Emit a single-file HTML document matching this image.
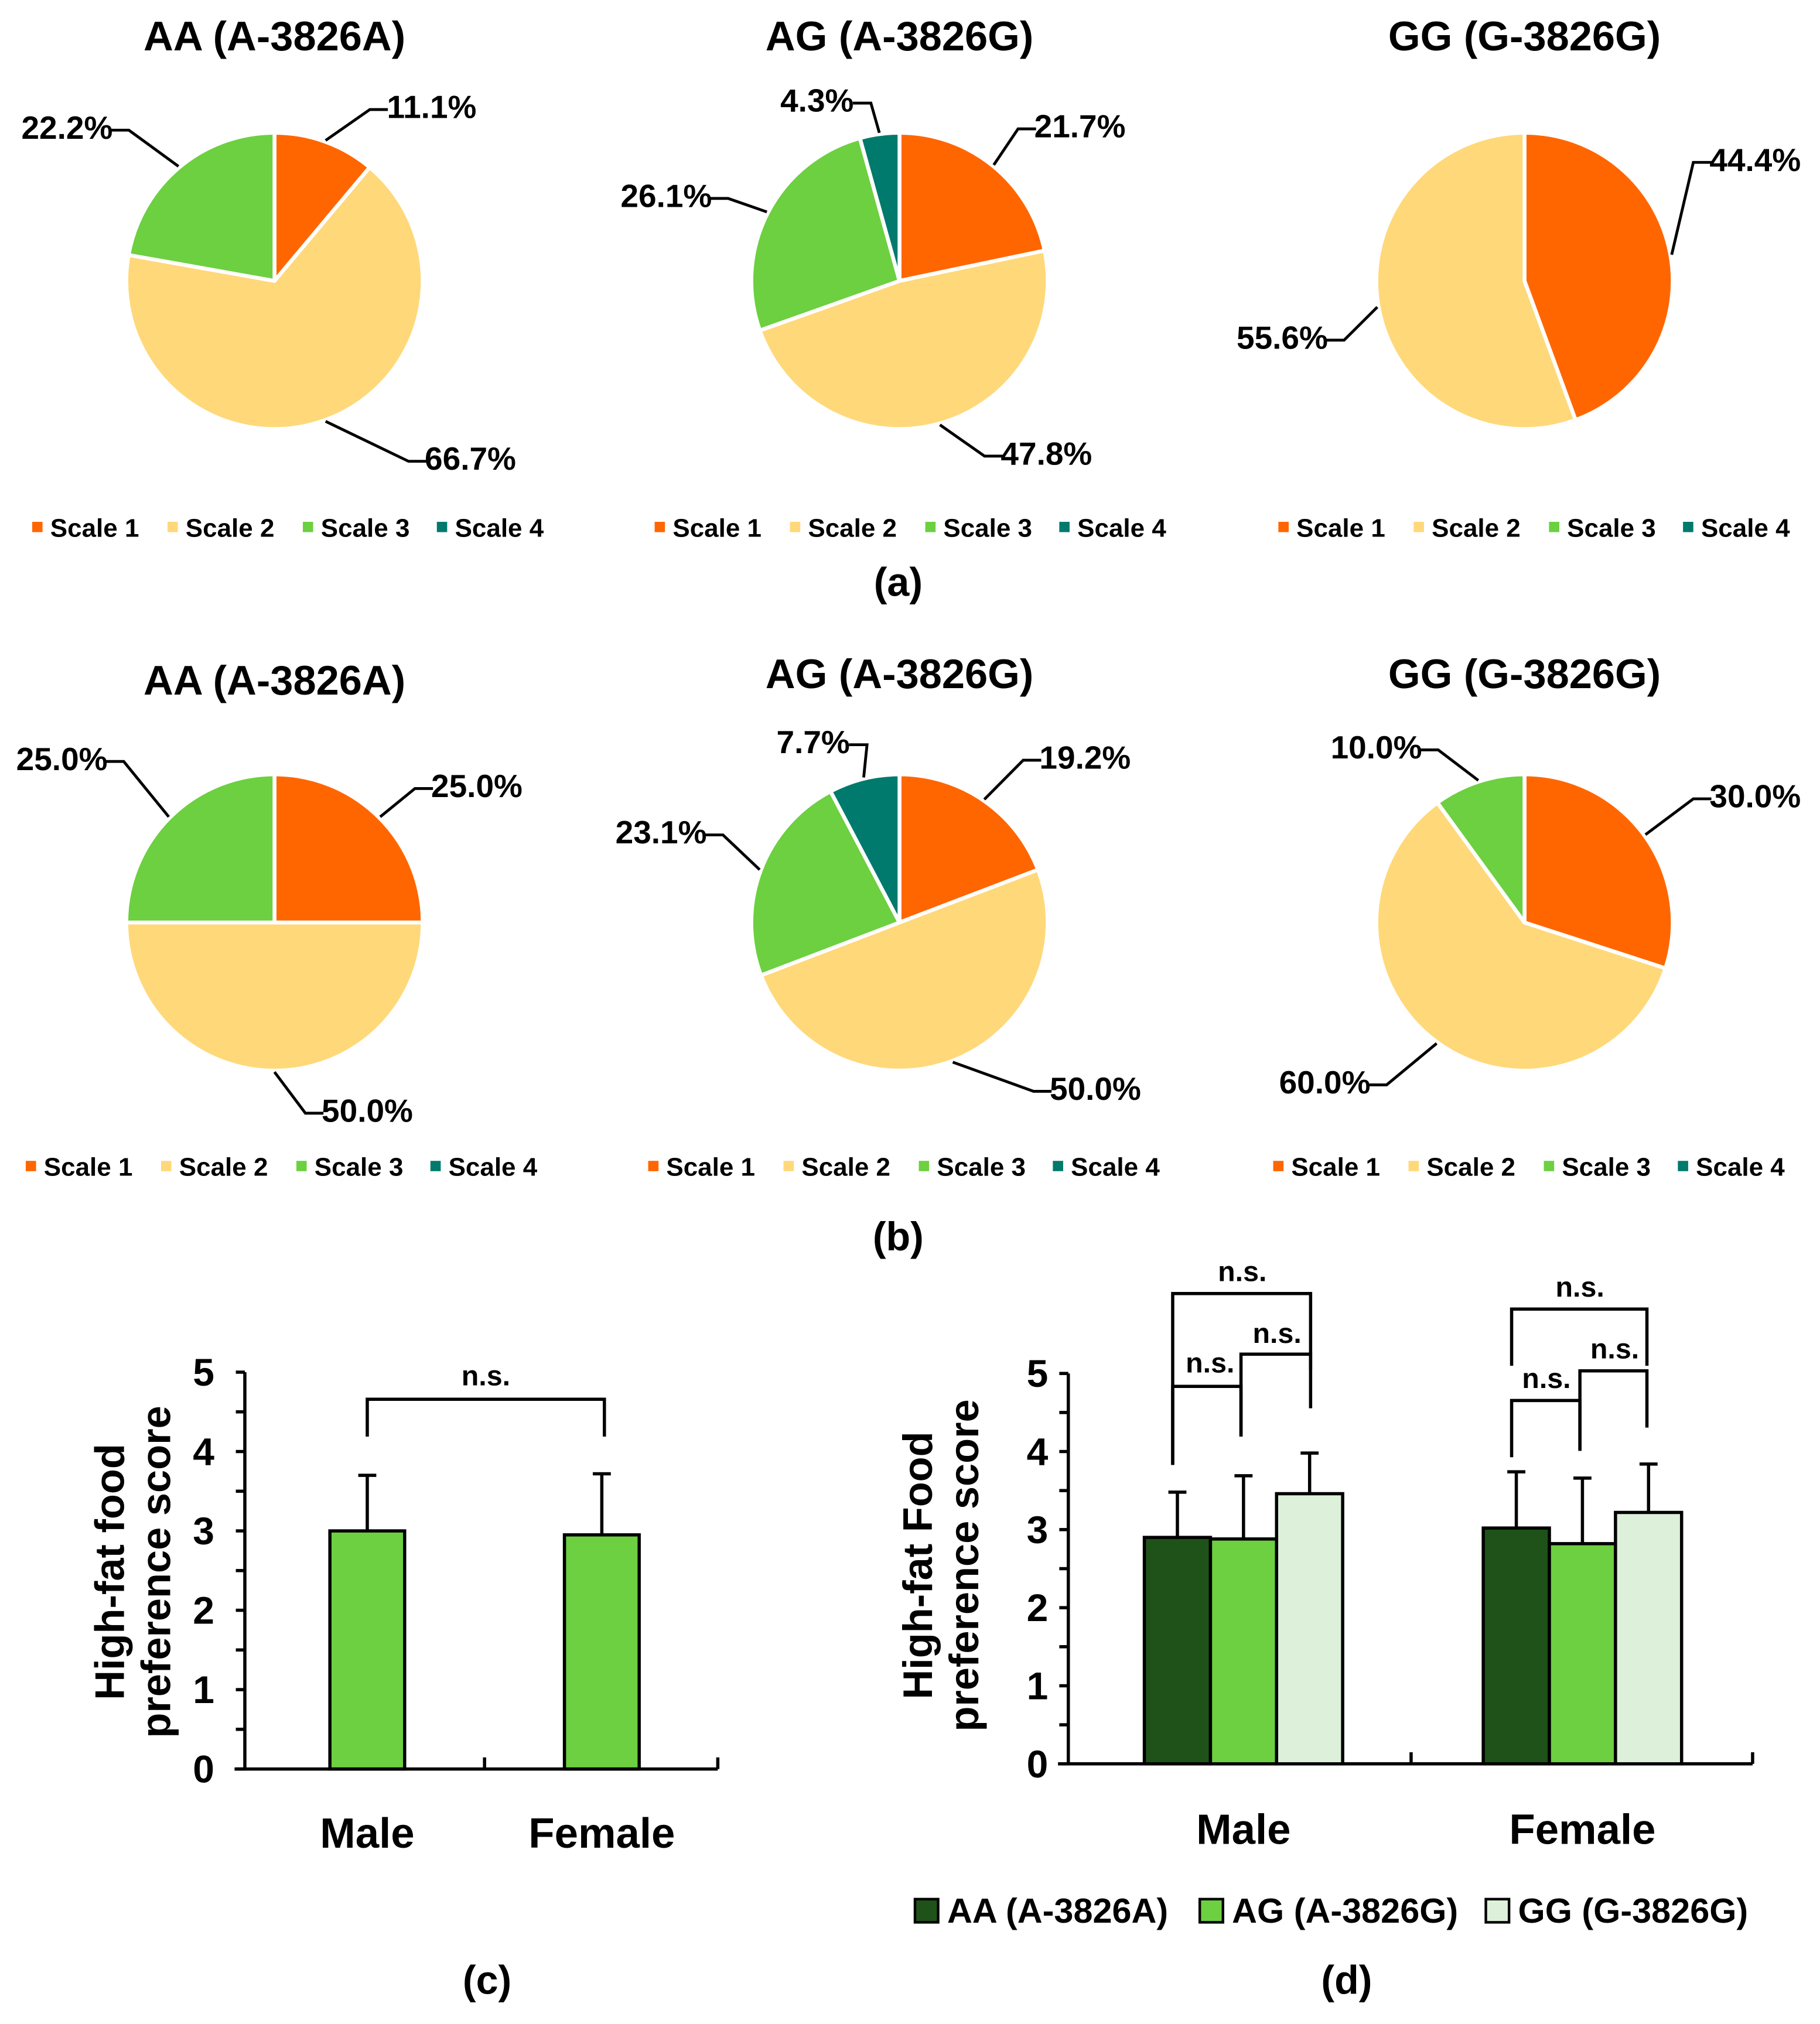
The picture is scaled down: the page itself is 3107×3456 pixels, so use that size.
<!DOCTYPE html>
<html><head><meta charset="utf-8"><style>
html,body{margin:0;padding:0;background:#fff;}
svg{display:block;}
text{font-family:"Liberation Sans",sans-serif;font-weight:bold;fill:#000;}
</style></head>
<body>
<svg id="fig" width="3107" height="3456" viewBox="0 0 1412.3 1570.9" xmlns="http://www.w3.org/2000/svg"></svg>
<script>
// ---------- pie data ----------
const scaleNames = ["Scale 1","Scale 2","Scale 3","Scale 4"];
const pieTitles = ["AA (A-3826A)","AG (A-3826G)","GG (G-3826G)"];
const pieA_AA = [11.1, 66.7, 22.2, 0];
const pieA_AG = [21.7, 47.8, 26.1, 4.3];
const pieA_GG = [44.4, 55.6, 0, 0];
const pieB_AA = [25.0, 50.0, 25.0, 0];
const pieB_AG = [19.2, 50.0, 23.1, 7.7];
const pieB_GG = [30.0, 60.0, 10.0, 0];
// ---------- bar data ----------
const sexCats = ["Male","Female"];
const cMeans = [3.0, 2.95];
const cErr = [0.7, 0.77];
const genoNames = ["AA (A-3826A)","AG (A-3826G)","GG (G-3826G)"];
const dMeansMale = [2.9, 2.88, 3.46];
const dMeansFemale = [3.02, 2.82, 3.22];
const dErrMale = [0.58, 0.81, 0.52];
const dErrFemale = [0.72, 0.84, 0.62];
const yTicks = ["0","1","2","3","4","5"];

const NS="http://www.w3.org/2000/svg";
const svg=document.getElementById('fig');
function mk(tag,attrs,parent){const e=document.createElementNS(NS,tag);for(const k in attrs)e.setAttribute(k,attrs[k]);(parent||svg).appendChild(e);return e;}
function txt(s,x,y,size,anchor,parent){const t=mk('text',{x:x,y:y,'font-size':size,'text-anchor':anchor||'middle','dominant-baseline':'central'},parent);t.textContent=s;return t;}

const sliceColors=["#FF6600","#FFD87A","#6CD040","#007A6C"];

// label layout: [x,y] text centres per slice (layout, not data)
const labelPos = {
  aAA:[[335,83],[365,356],[52,99],null],
  aAG:[[838,98],[812,352],[517,152],[634,78]],
  aGG:[[1362,124],[995,262],null,null],
  bAA:[[370,610],[285,862],[48,589],null],
  bAG:[[842,588],[850,845],[513,646],[631,576]],
  bGG:[[1362,618],[1028,840],[1068,580],null]
};

function drawPie(key,vals,cx,cy,r,title,titleY,legendY,legendX0){
  const g=mk('g',{});
  
  
  const tt=txt(title,cx,titleY,32,'middle',g);
  
  
  const tot=vals.reduce((a,b)=>a+b,0);
  let a0=0;
  vals.forEach((v,i)=>{
    if(v<=0)return;
    const a1=a0+v/tot*2*Math.PI;
    const p=(a)=>[cx+r*Math.sin(a),cy-r*Math.cos(a)];
    const [x0,y0]=p(a0),[x1,y1]=p(a1);
    const large=(a1-a0)>Math.PI?1:0;
    const path=mk('path',{d:`M${cx},${cy} L${x0},${y0} A${r},${r} 0 ${large} 1 ${x1},${y1} Z`,fill:sliceColors[i],stroke:'#fff','stroke-width':3,'stroke-linejoin':'round'},g);
    
    
    const lp=labelPos[key][i];
    if(lp){
      const am=(a0+a1)/2;
      const sx=cx+(r+1)*Math.sin(am), sy=cy-(r+1)*Math.cos(am);
      const label=v.toFixed(1)+'%';
      const hw=label.length*6.2+3;
      const right=lp[0]>sx;
      const ex=right?lp[0]-hw:lp[0]+hw;
      const elx=right?ex-14:ex+14;
      const ln=mk('polyline',{points:`${sx},${sy} ${elx},${lp[1]+2} ${ex},${lp[1]+2}`,fill:'none',stroke:'#000','stroke-width':2.2},g);
      
      
      const lt=txt(label,lp[0],lp[1],25,'middle',g);
      
      
    }
    a0=a1;
  });
  const step=[0,105,210,314];
  scaleNames.forEach((n,i)=>{
    const lx=legendX0+step[i];
    const m=mk('rect',{x:lx-4,y:legendY-4,width:8,height:8,fill:sliceColors[i]},g);
    
    
    const t=txt(n,lx+10,legendY+1,20,'start',g);
    
    
  });
}
drawPie('aAA',pieA_AA,213,218,115,pieTitles[0],28,409,29);
drawPie('aAG',pieA_AG,698,218,115,pieTitles[1],28,409,512);
drawPie('aGG',pieA_GG,1183,218,115,pieTitles[2],28,409,996);
drawPie('bAA',pieB_AA,213,716,115,pieTitles[0],528,905,24);
drawPie('bAG',pieB_AG,698,716,115,pieTitles[1],523,905,507);
drawPie('bGG',pieB_GG,1183,716,115,pieTitles[2],523,905,992);
[['(a)',697,452],['(b)',697,960],['(c)',378,1537],['(d)',1045,1537]].forEach(p=>{
  const t=txt(p[0],p[1],p[2],31,'middle');
  
  
});

// ---------- bar chart helpers ----------
function axes(g,ax,y0,y5,xEnd,midTick,tickLabelX){
  const ys=v=>y0+(y5-y0)*v/5;
  mk('line',{x1:ax,y1:y5,x2:ax,y2:y0,stroke:'#000','stroke-width':2.5},g);
  mk('line',{x1:ax-8,y1:y0,x2:xEnd,y2:y0,stroke:'#000','stroke-width':2.5},g);
  mk('line',{x1:midTick,y1:y0,x2:midTick,y2:y0-9,stroke:'#000','stroke-width':2.5},g);
  mk('line',{x1:xEnd,y1:y0,x2:xEnd,y2:y0-9,stroke:'#000','stroke-width':2.5},g);
  for(let v=0;v<=5;v+=0.5){
    mk('line',{x1:ax-7,y1:ys(v),x2:ax,y2:ys(v),stroke:'#000','stroke-width':2.5},g);
  }
  yTicks.forEach((s,i)=>{
    const t=txt(s,tickLabelX,ys(+s),30,'middle',g);
    
    
  });
  return ys;
}
function bracket(g,x1,x2,yTop,leg1,leg2,lx,ly){
  const p=mk('polyline',{points:`${x1},${leg1} ${x1},${yTop} ${x2},${yTop} ${x2},${leg2}`,fill:'none',stroke:'#000','stroke-width':2.5},g);
  
  
  const t=txt('n.s.',lx,ly,22,'middle',g);
  
  
}
function bar(g,x,w,ys,v,e,fill,name){
  const r=mk('rect',{x:x,y:ys(v),width:w,height:ys(0)-ys(v),fill:fill,stroke:'#000','stroke-width':2.5},g);
  
  
  const cx=x+w/2;
  const l=mk('path',{d:`M${cx},${ys(v)} L${cx},${ys(v+e)} M${cx-7},${ys(v+e)} L${cx+7},${ys(v+e)}`,stroke:'#000','stroke-width':2.5,fill:'none'},g);
  
  
}

// ---------- chart (c) ----------
const gc=mk('g',{});


const ysc=axes(gc,190,1373,1065,557,376,158);
const cCenters=[285,467];
sexCats.forEach((c,i)=>{
  bar(gc,cCenters[i]-29,58,ysc,cMeans[i],cErr[i],'#6CD040','bar-'+c.toLowerCase());
  const t=txt(c,cCenters[i],1423,33,'middle',gc);
  
  
});
bracket(gc,cCenters[0],cCenters[1]+2,1086,1115,1115,377,1068);
const ytc=mk('text',{transform:'translate(85,1220) rotate(-90)','font-size':32,'text-anchor':'middle','dominant-baseline':'central'},gc);
ytc.textContent='High-fat food';


const ytc2=mk('text',{transform:'translate(121,1220) rotate(-90)','font-size':32,'text-anchor':'middle','dominant-baseline':'central'},gc);
ytc2.textContent='preference score';



// ---------- chart (d) ----------
const gd=mk('g',{});


const ysd=axes(gd,829,1369,1066,1360,1095,805);
const genoColors=['#1F5219','#6CD040','#DDF0DA'];
const groupStart=[888,1151];
const bw=51.3;
[[dMeansMale,dErrMale],[dMeansFemale,dErrFemale]].forEach((d,gi)=>{
  d[0].forEach((v,i)=>{
    bar(gd,groupStart[gi]+i*bw,bw,ysd,v,d[1][i],genoColors[i],'bar-'+sexCats[gi].toLowerCase()+'-'+genoNames[i].slice(0,2).toLowerCase());
  });
  const t=txt(sexCats[gi],groupStart[gi]+1.5*bw,1420,33,'middle',gd);
  
  
});
bracket(gd,910,1017,1004,1137,1063,964,987);
bracket(gd,910,963,1076,1137,1115,939,1058);
bracket(gd,963,1017,1051,1115,1093,991,1035);
bracket(gd,1173,1278,1016,1060,1060,1226,999);
bracket(gd,1173,1226,1087,1131,1126,1200,1070);
bracket(gd,1226,1278,1064,1126,1108,1253,1047);
const ytd=mk('text',{transform:'translate(712,1215) rotate(-90)','font-size':32,'text-anchor':'middle','dominant-baseline':'central'},gd);
ytd.textContent='High-fat Food';


const ytd2=mk('text',{transform:'translate(748,1215) rotate(-90)','font-size':32,'text-anchor':'middle','dominant-baseline':'central'},gd);
ytd2.textContent='preference score';


const legX=[710,931,1153];
genoNames.forEach((n,i)=>{
  const r=mk('rect',{x:legX[i],y:1474,width:18,height:18,fill:genoColors[i],stroke:'#000','stroke-width':2},gd);
  
  
  const t=txt(n,legX[i]+25,1483,27,'start',gd);
  
  
});
</script>
</body></html>
